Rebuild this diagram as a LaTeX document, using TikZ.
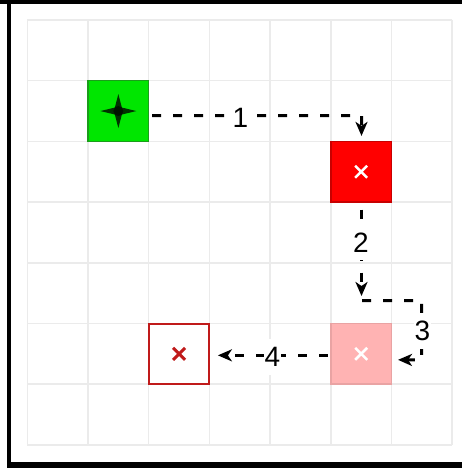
\documentclass[tikz,border=0pt]{standalone}
\usepackage{fontspec}
\setmainfont{Liberation Sans}
\usetikzlibrary{arrows.meta,calc}
\definecolor{gridgray}{HTML}{EBEBEB}
\definecolor{startgreen}{HTML}{00E600}
\definecolor{startborder}{HTML}{1A9E1A}
\definecolor{goalred}{HTML}{FF0000}
\definecolor{goalredborder}{HTML}{C80000}
\definecolor{pinkfill}{HTML}{FFB3B3}
\definecolor{pinkborder}{HTML}{E9A3A3}
\definecolor{outlinered}{HTML}{C01A1A}
\begin{document}
\begin{tikzpicture}[x=1pt,y=-1pt,
  gridline/.style={draw=gridgray,line width=1.5pt},
  cell/.style={rectangle,minimum size=60.7pt,inner sep=0pt,outer sep=0pt,line width=1.5pt},
  flow/.style={line width=3pt,dash pattern=on 9pt off 12pt,-{Stealth[length=14pt,width=12pt,inset=4pt]}},
  steplabel/.style={fill=white,inner xsep=1pt,inner ysep=8pt,font=\fontsize{28}{30}\selectfont},
  xmark/.style={line width=2.5pt}]
\useasboundingbox (0,0) rectangle (462,468);
\fill[white] (0,0) rectangle (462,468);
% frame
\fill[black] (0,0) rectangle (462,4);
\fill[black] (7,0) rectangle (11,468);
\fill[black] (7,462.3) rectangle (462,468);
% grid
\foreach \i in {0,...,7} {
  \draw[gridline] ({27.3+60.7*\i},20) -- ({27.3+60.7*\i},444.9);
  \draw[gridline] (27.3,{20+60.7*\i}) -- (452.2,{20+60.7*\i});
}
% cells
\node[cell,fill=startgreen,draw=startborder] (start) at (118.35,111.05) {};
\node[cell,fill=goalred,draw=goalredborder] (goalA) at (361.15,171.75) {};
\node[cell,fill=pinkfill,draw=pinkborder] (goalB) at (361.15,353.85) {};
\node[cell,fill=white,draw=outlinered,line width=2pt] (goalC) at (179.05,353.85) {};
% star
\begin{scope}[shift={(start.center)}]
  \fill[black,opacity=0.78] (0,-17) -- (3.5,-3.5) -- (18,0) -- (3.5,3.5) -- (0,17) -- (-3.5,3.5) -- (-18,0) -- (-3.5,-3.5) -- cycle;
  \fill[black,opacity=0.6] (0,0) circle (5);
\end{scope}
% crosses
\begin{scope}[shift={(goalA.center)}]
  \draw[white,xmark] (-6,-6) -- (6,6) (-6,6) -- (6,-6);
\end{scope}
\begin{scope}[shift={(goalB.center)}]
  \draw[white,xmark] (-6,-6) -- (6,6) (-6,6) -- (6,-6);
\end{scope}
\begin{scope}[shift={(goalC.center)}]
  \draw[outlinered,line width=3pt] (-6,-6) -- (6,6) (-6,6) -- (6,-6);
\end{scope}
% connectors
\coordinate (bendA) at (361.5,115.5);
\draw[flow] ($(start.east)+(3.5,4.5)$) -- (bendA) -- ($(goalA.north)+(0.35,-5.5)$);
\coordinate (endB) at (361.5,296);
\draw[flow] ($(goalA.south)+(0.35,7.5)$) -- (endB);
\coordinate (startC) at (362,300.5);
\coordinate (bendC1) at (421.7,300.5);
\coordinate (bendC2) at (421.7,360);
\draw[flow] (startC) -- (bendC1) -- (bendC2) -- ($(goalB.east)+(6.5,6)$);
\draw[flow] ($(goalB.west)+(-3,1.5)$) -- ($(goalC.east)+(8.5,1.5)$);
% labels
\node[steplabel] (lab1) at (240.3,117.5) {1};
\node[steplabel] (lab2) at (361,242.5) {2};
\node[steplabel] (lab3) at (422.5,331) {3};
\node[steplabel] (lab4) at (272.5,357) {4};
\end{tikzpicture}
\end{document}
